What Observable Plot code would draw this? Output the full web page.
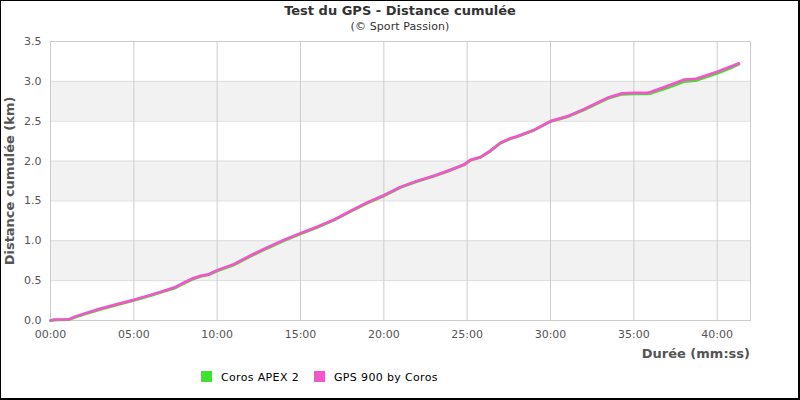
<!DOCTYPE html>
<html>
<head>
<meta charset="utf-8">
<script src="https://cdn.jsdelivr.net/npm/d3@7"></script>
<script src="https://cdn.jsdelivr.net/npm/@observablehq/plot@0.6"></script>
<style>
  html, body { margin: 0; padding: 0; background: #fff; }
  #wrap { position: relative; width: 800px; height: 400px; overflow: hidden; font-family: "DejaVu Sans", sans-serif; background: #fff; }
  #border { position: absolute; left: 0; top: 0; width: 800px; height: 400px; box-sizing: border-box; border-style: solid; border-color: #000; border-width: 1px 2px 2px 1px; pointer-events: none; }
  #title { position: absolute; left: 0; width: 800px; top: 3px; text-align: center; font-size: 13px; font-weight: bold; color: #333; }
  #subtitle { position: absolute; left: 0; width: 800px; top: 20px; text-align: center; font-size: 11px; color: #333; letter-spacing: 0.1px; }
  #xlabel { position: absolute; right: 50px; top: 346px; font-size: 13px; font-weight: bold; color: #555; white-space: nowrap; }
  #chart { position: absolute; left: 0; top: 0; }
  #legend { position: absolute; top: 371px; left: 0; width: 800px; font-size: 11px; color: #000; letter-spacing: 0.35px; }
  .item { position: absolute; top: 0; white-space: nowrap; }
  .sw { display: inline-block; width: 11px; height: 11px; vertical-align: -1px; margin-right: 9px; }
  g[aria-label="y-axis label"] text { font-weight: bold; font-size: 13px; fill: #555; }
</style>
</head>
<body>
<div id="wrap">
  <div id="chart"></div>
  <div id="title">Test du GPS - Distance cumulée</div>
  <div id="subtitle">(© Sport Passion)</div>
  <div id="xlabel">Durée (mm:ss)</div>
  <div id="legend"></div>
  <div id="border"></div>
</div>
<script>
// Durée (minutes)
const minutes = [0, 0.2, 1.1, 1.5, 2, 3, 4, 5, 6, 7, 7.5, 8, 8.5, 9, 9.5, 10, 10.8, 11, 12, 13, 14, 15, 16, 17, 18, 19, 20, 21, 22, 23, 24, 24.8, 25.2, 25.8, 26.4, 27, 27.6, 28, 29, 30, 31, 32, 33, 33.5, 34.3, 35, 35.8, 36, 37, 38, 38.7, 39, 40, 41, 41.3];
// Distance cumulée (km) - GPS 900 by Coros
const gps900 = [0, 0.01, 0.015, 0.05, 0.085, 0.15, 0.205, 0.26, 0.32, 0.385, 0.42, 0.475, 0.525, 0.56, 0.58, 0.63, 0.69, 0.705, 0.815, 0.915, 1.01, 1.095, 1.175, 1.265, 1.375, 1.48, 1.57, 1.675, 1.75, 1.815, 1.89, 1.955, 2.015, 2.05, 2.13, 2.23, 2.285, 2.31, 2.39, 2.5, 2.56, 2.65, 2.75, 2.8, 2.85, 2.855, 2.855, 2.865, 2.94, 3.02, 3.03, 3.05, 3.12, 3.2, 3.225];
// Distance cumulée (km) - Coros APEX 2
const apex2 = [0, 0.005, 0.01, 0.042, 0.077, 0.14, 0.196, 0.252, 0.312, 0.377, 0.41, 0.465, 0.515, 0.552, 0.575, 0.622, 0.682, 0.697, 0.806, 0.905, 1.0, 1.087, 1.167, 1.257, 1.367, 1.472, 1.563, 1.668, 1.745, 1.81, 1.884, 1.95, 2.01, 2.047, 2.127, 2.225, 2.28, 2.305, 2.385, 2.495, 2.553, 2.642, 2.74, 2.79, 2.838, 2.843, 2.843, 2.85, 2.918, 2.997, 3.008, 3.03, 3.1, 3.185, 3.215];
const seriesNames = ["Coros APEX 2", "GPS 900 by Coros"];
const seriesColors = ["#3fe22e", "#f257c9"];
const xTicks = [0, 5, 10, 15, 20, 25, 30, 35, 40];
const yTicks = [0, 0.5, 1, 1.5, 2, 2.5, 3, 3.5];
const bands = [[0.5, 1], [1.5, 2], [2.5, 3]];

const data = [];
minutes.forEach((t, i) => data.push({t, d: apex2[i], s: seriesNames[0]}));
minutes.forEach((t, i) => data.push({t, d: gps900[i], s: seriesNames[1]}));
const bandRows = bands.map(([lo, hi]) => ({lo, hi}));
const fmtX = d => String(Math.floor(d)).padStart(2, "0") + ":00";

const chart = Plot.plot({
  width: 800,
  height: 362,
  marginTop: 41,
  marginBottom: 42,
  marginLeft: 50,
  marginRight: 50,
  style: {fontFamily: "DejaVu Sans", fontSize: "11px", color: "#555", background: "transparent"},
  x: {domain: [0, 42]},
  y: {domain: [0, 3.5]},
  color: {domain: seriesNames, range: seriesColors},
  marks: [
    Plot.rect(bandRows, {y1: "lo", y2: "hi", fill: "#f2f2f2"}),
    Plot.gridY(yTicks, {stroke: "#dddddd", strokeOpacity: 1}),
    Plot.gridX(xTicks, {stroke: "#cccccc", strokeOpacity: 1}),
    Plot.frame({stroke: "#cccccc"}),
    Plot.axisY(yTicks, {tickSize: 0, tickPadding: 9, tickFormat: d3.format(".1f"), label: "Distance cumulée (km)", labelAnchor: "center", labelOffset: 46, labelArrow: "none"}),
    Plot.axisX(xTicks, {tickSize: 0, tickPadding: 10, tickFormat: fmtX, label: null}),
    Plot.line(data, {x: "t", y: "d", z: "s", stroke: "s", strokeWidth: 2.8, strokeLinejoin: "miter"})
  ]
});
document.getElementById("chart").appendChild(chart);

const legend = document.getElementById("legend");
const lx = [201, 314];
seriesNames.forEach((n, i) => {
  const it = document.createElement("div");
  it.className = "item";
  it.style.left = lx[i] + "px";
  it.innerHTML = `<span class="sw" style="background:${seriesColors[i]}"></span>${n}`;
  legend.appendChild(it);
});
</script>
</body>
</html>
